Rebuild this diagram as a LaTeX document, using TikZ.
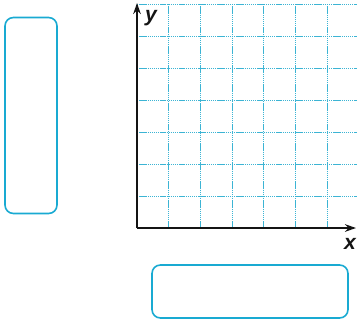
\documentclass[tikz,border=0pt]{standalone}
\usepackage{fontspec}
\setmainfont{Liberation Sans}
\usepackage{tikz}
\usetikzlibrary{arrows.meta}
\usepackage{xcolor}
\definecolor{boxcyan}{RGB}{25,170,210}
\definecolor{gridcyan}{RGB}{60,180,212}
\definecolor{axisblack}{RGB}{20,20,20}

\tikzset{
  answerbox/.style={draw=boxcyan, line width=2.3pt, rounded corners=0.42cm, inner sep=0pt},
  gridline/.style={gridcyan, line width=1pt, dash pattern=on 2pt off 1pt},
  axisline/.style={axisblack, line width=3pt, -{Stealth[length=0.55cm,width=0.38cm]}},
  axislabel/.style={font=\fontsize{30}{30}\selectfont\bfseries\itshape, axisblack, inner sep=0pt}
}

\begin{document}
\begin{tikzpicture}[x=0.05cm, y=-0.05cm]
    \useasboundingbox (0,0) rectangle (357,323);
    % Answer boxes
    \node[answerbox, minimum width=2.6cm, minimum height=9.8cm] (boxleft) at (31,115.5) {};
    \node[answerbox, minimum width=9.8cm, minimum height=2.65cm] (boxbottom) at (250,291.5) {};
    % Grid
    \coordinate (origin) at (137,228);
    \foreach \k in {1,...,6}{
      \draw[gridline] (137+31.7*\k,4) -- (137+31.7*\k,228);
    }
    \foreach \k in {1,...,7}{
      \draw[gridline] (137,228-32*\k) -- (357,228-32*\k);
    }
    % Axes
    \coordinate (xend) at (356,228);
    \coordinate (yend) at (137,3);
    \draw[axisline] (origin) -- (xend);
    \draw[axisline] (origin) -- (yend);
    \node[axislabel] (ylabel) at (151,18) {y};
    \node[axislabel] (xlabel) at (350,244) {x};
\end{tikzpicture}
\end{document}
